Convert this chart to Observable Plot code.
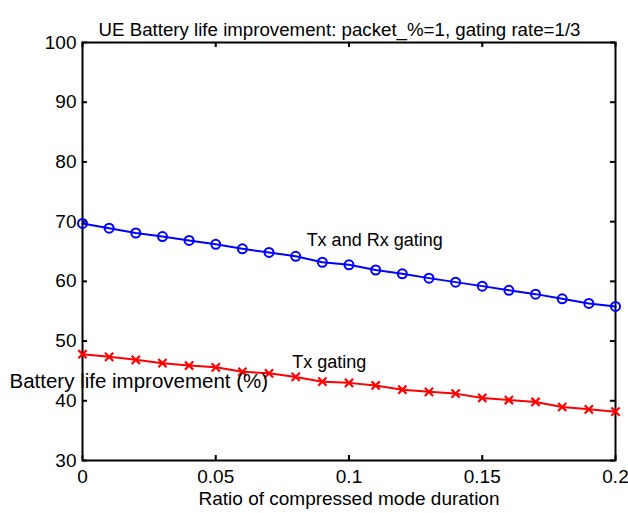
<!DOCTYPE html>
<html>
<head>
<meta charset="utf-8">
<script src="https://cdn.jsdelivr.net/npm/d3@7"></script>
<script src="https://cdn.jsdelivr.net/npm/@observablehq/plot@0.6"></script>
<style>
  html, body { margin: 0; padding: 0; background: #fff; }
</style>
</head>
<body>
<div id="chart"></div>
<script>
const ratio = [0, 0.01, 0.02, 0.03, 0.04, 0.05, 0.06, 0.07, 0.08, 0.09, 0.10,
               0.11, 0.12, 0.13, 0.14, 0.15, 0.16, 0.17, 0.18, 0.19, 0.20];
const txRxGating = [69.7, 68.9, 68.1, 67.5, 66.85, 66.2, 65.45, 64.84, 64.2, 63.2, 62.77,
                    61.9, 61.27, 60.54, 59.87, 59.2, 58.5, 57.86, 57.08, 56.3, 55.8];
const txGating = [47.8, 47.36, 46.86, 46.3, 45.9, 45.6, 44.86, 44.6, 44.0, 43.2, 43.0,
                  42.57, 41.85, 41.5, 41.2, 40.47, 40.13, 39.8, 38.96, 38.57, 38.18];
const xTicks = [0, 0.05, 0.1, 0.15, 0.2];
const xTickLabels = ["0", "0.05", "0.1", "0.15", "0.2"];
const yTicks = [30, 40, 50, 60, 70, 80, 90, 100];
const yTickLabels = ["30", "40", "50", "60", "70", "80", "90", "100"];
const seriesNames = ["Tx and Rx gating", "Tx gating"];
const labelX = [0.0841, 0.0787];
const labelY = [66.85, 46.47];
const titleText = "UE Battery life improvement: packet_%=1, gating rate=1/3";
const xLabel = "Ratio of compressed mode duration";
const yLabel = "Battery life improvement (%)";

const blueData = ratio.map((x, i) => ({x, y: txRxGating[i]}));
const redData = ratio.map((x, i) => ({x, y: txGating[i]}));
const labels = seriesNames.map((t, i) => ({t, x: labelX[i], y: labelY[i]}));

const chart = Plot.plot({
  width: 628,
  height: 513,
  marginLeft: 82,
  marginRight: 13,
  marginTop: 42,
  marginBottom: 53,
  style: {fontFamily: "'Liberation Sans', Arial, Helvetica, sans-serif", fontSize: "19px", background: "#fff", color: "#000"},
  x: {domain: [0, 0.2]},
  y: {domain: [30, 100]},
  marks: [
    // inward ticks on all four sides
    Plot.ruleX(xTicks, {insetTop: 413, stroke: "#000", strokeWidth: 2}),
    Plot.ruleX(xTicks, {insetBottom: 413, stroke: "#000", strokeWidth: 2}),
    Plot.ruleY(yTicks, {insetRight: 528, stroke: "#000", strokeWidth: 2}),
    Plot.ruleY(yTicks, {insetLeft: 528, stroke: "#000", strokeWidth: 2}),
    Plot.axisX(xTicks, {tickSize: 0, tickPadding: 9, label: null,
      tickFormat: d => xTickLabels[xTicks.indexOf(d)]}),
    Plot.axisY(yTicks, {tickSize: 0, tickPadding: 6, label: null,
      tickFormat: d => yTickLabels[yTicks.indexOf(d)]}),
    Plot.frame({stroke: "#000", strokeWidth: 2}),
    Plot.line(blueData, {x: "x", y: "y", stroke: "#0000ff", strokeWidth: 2}),
    Plot.dot(blueData, {x: "x", y: "y", r: 4.5, stroke: "#0000ff", strokeWidth: 2, fill: "none"}),
    Plot.line(redData, {x: "x", y: "y", stroke: "#ff0000", strokeWidth: 2}),
    Plot.dot(redData, {x: "x", y: "y", r: 3.8, symbol: "times", stroke: "#ff0000", strokeWidth: 2.2}),
    Plot.text(labels, {x: "x", y: "y", text: "t", textAnchor: "start", fill: "#000", fontSize: 18}),
    Plot.text([titleText], {frameAnchor: "top", dy: -19.5, dx: -9.5, fill: "#000", fontSize: 18.7}),
    Plot.text([xLabel], {frameAnchor: "bottom", dy: 44, fill: "#000"}),
    Plot.text([yLabel], {frameAnchor: "bottom-left", dx: -73, dy: -72.5, textAnchor: "start", fill: "#000", fontSize: 20.5})
  ]
});
document.getElementById("chart").appendChild(chart);
</script>
</body>
</html>
